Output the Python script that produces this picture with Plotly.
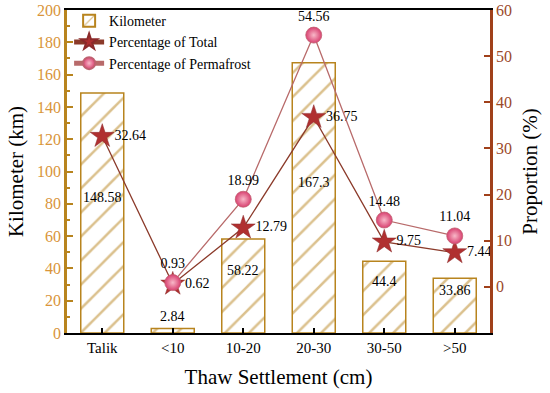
import plotly.graph_objects as go

categories = ["Talik", "<10", "10-20", "20-30", "30-50", ">50"]
kilometer = [148.58, 2.84, 58.22, 167.3, 44.4, 33.86]
pct_total = [32.64, 0.62, 12.79, 36.75, 9.75, 7.44]
pct_permafrost = [None, 0.93, 18.99, 54.56, 14.48, 11.04]

# label anchor heights (left-axis units) for bar value labels
bar_label_y = [83.6, 10.5, 38.4, 92.9, 31.8, 26.6]

FONT = "Times New Roman, Liberation Serif, serif"
GOLD = "#B8841E"
GOLD_TXT = "#D9953A"
SIENNA = "#A0401A"
SIENNA_TXT = "#9B4A2A"

fig = go.Figure()

fig.add_trace(go.Bar(
    x=categories, y=kilometer, name="Kilometer", width=0.61,
    marker=dict(color="white",
                line=dict(color=GOLD, width=1.5),
                pattern=dict(shape="/", fgcolor=GOLD, bgcolor="white", size=17, solidity=0.15)),
    yaxis="y",
))

fig.add_trace(go.Scatter(
    x=categories, y=pct_total, name="Percentage of Total", mode="lines+markers+text",
    line=dict(color="#8B3A2A", width=1.3),
    marker=dict(symbol="star", size=18, color="#B03030", line=dict(color="#8B2A2A", width=0.5)),
    text=[f"{v:g}" for v in pct_total], textposition="middle right",
    textfont=dict(family=FONT, size=14, color="black"),
    yaxis="y2",
))

fig.add_trace(go.Scatter(
    x=categories, y=pct_permafrost, name="Percentage of Permafrost", mode="lines+markers+text",
    line=dict(color="#B86A6A", width=1.3),
    marker=dict(symbol="circle", size=16, color="#D84070",
                gradient=dict(type="radial", color="#F8B8C8"),
                line=dict(color="#C06070", width=0.8)),
    text=[("" if v is None else f"{v:g}") for v in pct_permafrost], textposition="top center",
    textfont=dict(family=FONT, size=14, color="black"),
    yaxis="y2", connectgaps=False,
))

annotations = []
for c, v, ly in zip(categories, kilometer, bar_label_y):
    annotations.append(dict(x=c, y=ly, xref="x", yref="y", text=f"{v:g}", showarrow=False,
                            font=dict(family=FONT, size=14, color="black")))

fig.update_layout(
    width=550, height=393,
    margin=dict(l=67, r=60, t=10, b=60, autoexpand=False),
    plot_bgcolor="white", paper_bgcolor="white",
    font=dict(family=FONT, size=14, color="black"),
    showlegend=True,
    legend=dict(x=0.005, y=1.015, xanchor="left", yanchor="top", bgcolor="rgba(0,0,0,0)",
                font=dict(family=FONT, size=14, color="black"), tracegroupgap=0,
                itemwidth=30, itemsizing="constant"),
    bargap=0.39,
    annotations=annotations,
    xaxis=dict(
        type="category", range=[-0.5, 5.5], automargin=False,
        showline=True, linecolor="black", linewidth=2, mirror=True,
        ticks="inside", ticklen=5, tickwidth=2, tickcolor="black",
        tickfont=dict(family=FONT, size=15, color="black"),
        title=dict(text="Thaw Settlement (cm)", font=dict(family=FONT, size=21, color="black"), standoff=14),
        showgrid=False,
    ),
    yaxis=dict(
        range=[0, 200], dtick=20, automargin=False,
        showline=True, linecolor=GOLD, linewidth=2.5,
        ticks="inside", ticklen=6, tickwidth=2, tickcolor=GOLD,
        tickfont=dict(family=FONT, size=16, color=GOLD_TXT),
        title=dict(text="Kilometer (km)", font=dict(family=FONT, size=21, color="black"), standoff=8),
        showgrid=False, zeroline=False,
        minor=dict(ticks="inside", ticklen=3, tickcolor=GOLD, dtick=10, tickwidth=1.5),
    ),
    yaxis2=dict(
        overlaying="y", side="right", range=[-10, 60], automargin=False,
        tickvals=[0, 10, 20, 30, 40, 50, 60],
        showline=True, linecolor=SIENNA, linewidth=2.5,
        ticks="inside", ticklen=6, tickwidth=2, tickcolor=SIENNA,
        tickfont=dict(family=FONT, size=16, color=SIENNA_TXT),
        title=dict(text="Proportion (%)", font=dict(family=FONT, size=21, color="black"), standoff=12),
        showgrid=False, zeroline=False,
    ),
)

fig.write_html("out.html", config={"displayModeBar": False},
               post_script="document.body.style.margin='0';")
